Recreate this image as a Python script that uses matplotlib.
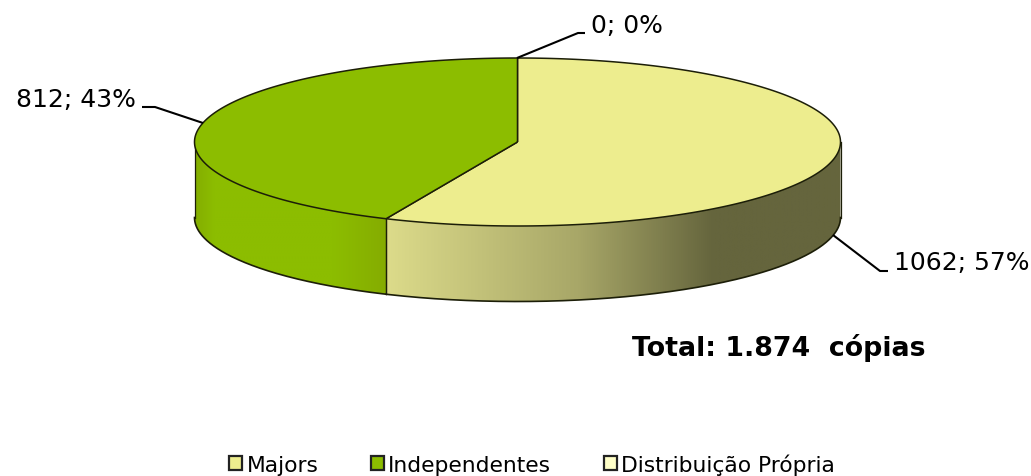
import matplotlib
import matplotlib.pyplot as plt
matplotlib.use('Agg')
import numpy as np
from matplotlib.colors import LinearSegmentedColormap
from matplotlib.patches import Patch, PathPatch, Polygon
from matplotlib.path import Path

categories = ['Majors', 'Independentes', 'Distribuição Própria']
values = [1062, 812, 0]
total_label = 'Total: 1.874  cópias'

top_colors = ['#EDED8E', '#8CBD00', '#FFFFC8']
edge_color = '#1C1E08'

# geometria da pizza em pixels
cx, cy = 517.5, 143
rx, ry = 323, 84
depth = 75.5

# gradientes das paredes laterais
majors_grad = LinearSegmentedColormap.from_list(
    'majors', [(0, '#DCDB8A'), (0.42, '#A8A768'), (0.72, '#65653D'), (1, '#65653D')])
indep_grad = LinearSegmentedColormap.from_list(
    'indep', [(0, '#84AE00'), (0.1, '#8CBD00'), (0.72, '#8CBD00'), (1, '#85AC00')])

plt.rcParams['font.family'] = ['DejaVu Sans']

fig = plt.figure(figsize=(10.31, 4.77), dpi=100)
ax = fig.add_axes([0, 0, 1, 1])
ax.set_xlim(0, 1031)
ax.set_ylim(477, 0)
ax.axis('off')


def rim(a0, a1, n=200):
    # angulos em graus, sentido horario a partir do topo
    t = np.radians(np.linspace(a0, a1, n))
    return cx + rx * np.sin(t), cy - ry * np.cos(t)


def draw_side(a0, a1, cmap):
    x, y = rim(a0, a1)
    pts = np.vstack([np.column_stack([x, y]),
                     np.column_stack([x[::-1], y[::-1] + depth])])
    poly = Polygon(pts, closed=True, facecolor='none', edgecolor='none')
    ax.add_patch(poly)
    grad = np.linspace(0, 1, 512).reshape(1, -1)
    im = ax.imshow(grad, cmap=cmap, aspect='auto', zorder=1,
                   extent=[x.min(), x.max(), y.max() + depth, y.min()])
    im.set_clip_path(poly)
    ax.plot(x, y + depth, color=edge_color, lw=1.2, zorder=2)
    ax.plot([x[0], x[0]], [y[0], y[0] + depth], color=edge_color, lw=0.9, zorder=2)
    ax.plot([x[-1], x[-1]], [y[-1], y[-1] + depth], color=edge_color, lw=0.9, zorder=2)


fractions = np.array(values) / sum(values)
angles = np.concatenate([[0], np.cumsum(fractions) * 360])

# paredes visiveis: so a metade da frente (90 a 270 graus)
draw_side(90, angles[1], majors_grad)
draw_side(angles[1], 270, indep_grad)

# fatias de cima
for i, color in enumerate(top_colors):
    if values[i] == 0:
        continue
    x, y = rim(angles[i], angles[i + 1])
    verts = [(cx, cy)] + list(zip(x, y)) + [(cx, cy)]
    ax.add_patch(PathPatch(Path(verts), facecolor=color, edgecolor=edge_color, lw=1.1, zorder=3))

# rotulos com linha de chamada
leaders = {
    0: ([833, 880, 888], [236, 272, 272], 894, 263, 'left'),
    1: ([203, 155, 142], [124, 108, 108], 136, 100, 'right'),
    2: ([517, 578, 585], [59, 34, 34], 591, 26, 'left'),
}
for i, (lx, ly, tx, ty, ha) in leaders.items():
    ax.plot(lx, ly, color='black', lw=1.5, zorder=4, solid_capstyle='butt')
    ax.text(tx, ty, f'{values[i]}; {fractions[i] * 100:.0f}%', fontsize=18, ha=ha, va='center', color='black')

ax.text(632, 348, total_label, fontsize=19.3, fontweight='bold', ha='left', va='center', color='black')

handles = [Patch(facecolor=c, edgecolor='#222222', lw=1.6) for c in top_colors]
leg = ax.legend(handles, categories, ncol=3, loc='center', frameon=False,
                bbox_to_anchor=(532 / 1031, 1 - 465 / 477), fontsize=15.7,
                handlelength=0.6, handleheight=0.6, handletextpad=0.2, columnspacing=2.4)

plt.savefig('out.png', dpi=100)
